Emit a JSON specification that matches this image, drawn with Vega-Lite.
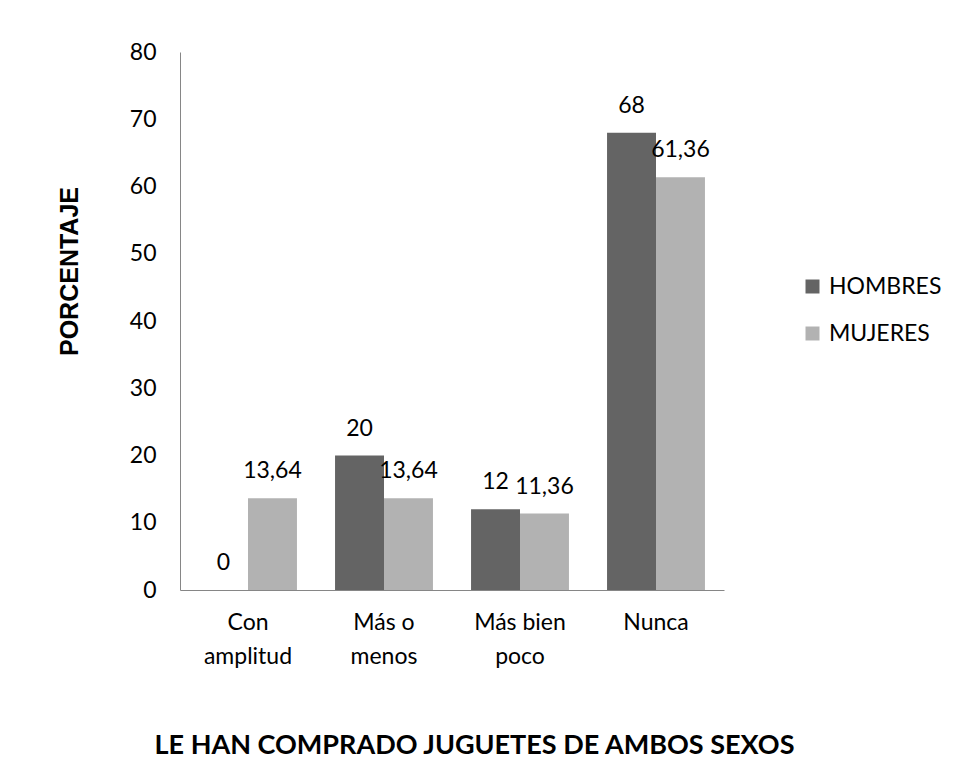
{
  "$schema": "https://vega.github.io/schema/vega-lite/v6.json",
  "width": 544,
  "height": 538,
  "autosize": {"type": "none"},
  "padding": {"left": 180, "top": 52, "right": 229, "bottom": 177},
  "background": "white",
  "config": {
    "view": {"stroke": null},
    "font": "Lato",
    "locale": {"number": {"decimal": ",", "thousands": ".", "grouping": [3], "currency": ["", " €"]}}
  },
  "data": {
    "values": [
      {"respuesta": "Con amplitud", "sexo": "HOMBRES", "porcentaje": 0},
      {"respuesta": "Con amplitud", "sexo": "MUJERES", "porcentaje": 13.64},
      {"respuesta": "Más o menos", "sexo": "HOMBRES", "porcentaje": 20},
      {"respuesta": "Más o menos", "sexo": "MUJERES", "porcentaje": 13.64},
      {"respuesta": "Más bien poco", "sexo": "HOMBRES", "porcentaje": 12},
      {"respuesta": "Más bien poco", "sexo": "MUJERES", "porcentaje": 11.36},
      {"respuesta": "Nunca", "sexo": "HOMBRES", "porcentaje": 68},
      {"respuesta": "Nunca", "sexo": "MUJERES", "porcentaje": 61.36}
    ]
  },
  "encoding": {
    "x": {
      "field": "respuesta",
      "type": "nominal",
      "sort": ["Con amplitud", "Más o menos", "Más bien poco", "Nunca"],
      "scale": {"paddingInner": 0.28, "paddingOuter": 0.14},
      "axis": {
        "title": "LE HAN COMPRADO JUGUETES DE AMBOS SEXOS",
        "titleFont": "Lato",
        "titleFontWeight": "bold",
        "titleFontSize": 27,
        "titleColor": "black",
        "titleX": 294,
        "titleY": 155,
        "titleAlign": "center",
        "titleBaseline": "middle",
        "labelAngle": 0,
        "labelFontSize": 23,
        "labelColor": "black",
        "labelPadding": 21,
        "labelLineHeight": 34,
        "labelBaseline": "top",
        "ticks": false,
        "domainColor": "#868686",
        "domainWidth": 1,
        "labelExpr": "lastindexof(datum.label,' ') > 0 ? [substring(datum.label,0,lastindexof(datum.label,' ')), substring(datum.label,lastindexof(datum.label,' ')+1)] : datum.label"
      }
    },
    "xOffset": {"field": "sexo", "type": "nominal", "sort": ["HOMBRES", "MUJERES"], "scale": {"paddingInner": 0, "paddingOuter": 0}},
    "y": {
      "field": "porcentaje",
      "type": "quantitative",
      "scale": {"domain": [0, 80], "nice": false},
      "axis": {
        "title": "PORCENTAJE",
        "titleFont": "Liberation Sans",
        "titleFontWeight": "bold",
        "titleFontSize": 25,
        "titleColor": "black",
        "titleX": -111,
        "titleY": 219,
        "titleAngle": -90,
        "titleAlign": "center",
        "titleBaseline": "middle",
        "values": [0, 10, 20, 30, 40, 50, 60, 70, 80],
        "grid": false,
        "ticks": false,
        "labelFontSize": 23,
        "labelColor": "black",
        "labelPadding": 24,
        "domainColor": "#868686",
        "domainWidth": 1
      }
    }
  },
  "layer": [
    {
      "mark": {"type": "bar"},
      "encoding": {
        "color": {
          "field": "sexo",
          "type": "nominal",
          "scale": {"domain": ["HOMBRES", "MUJERES"], "range": ["#646464", "#b2b2b2"]},
          "legend": {
            "title": null,
            "orient": "none",
            "legendX": 621,
            "legendY": 223,
            "symbolType": "square",
            "symbolSize": 196,
            "symbolStrokeWidth": 0,
            "labelFontSize": 23,
            "labelColor": "black",
            "labelOffset": 5,
            "rowPadding": 23
          }
        }
      }
    },
    {
      "mark": {"type": "text", "baseline": "middle", "dy": -27, "fontSize": 23, "color": "black"},
      "encoding": {"text": {"field": "porcentaje", "type": "quantitative", "format": "~g"}}
    }
  ]
}
